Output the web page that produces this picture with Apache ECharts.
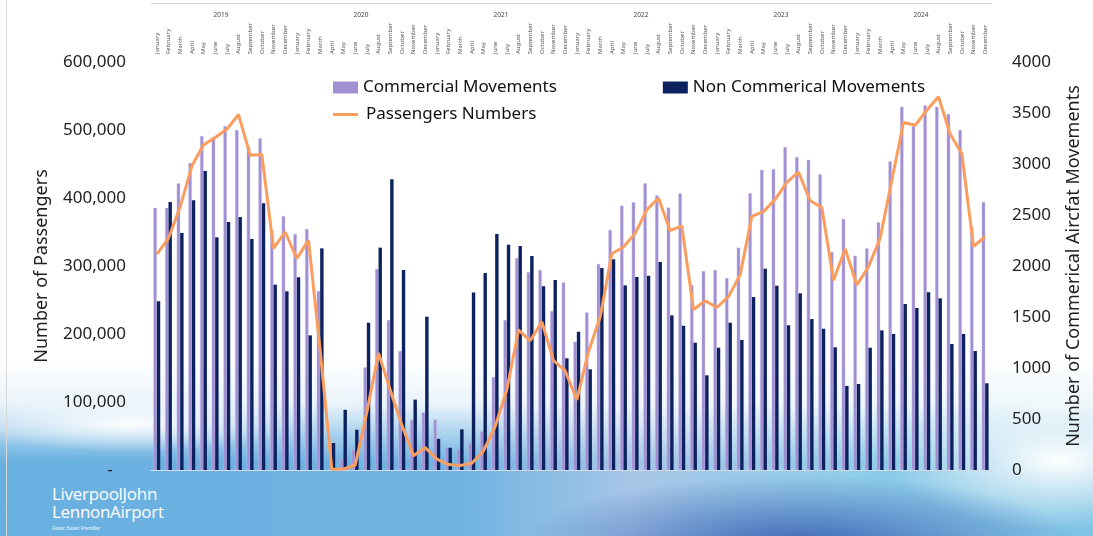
<!DOCTYPE html>
<html>
<head>
<meta charset="utf-8">
<script src="https://cdn.jsdelivr.net/npm/echarts@6/dist/echarts.min.js"></script>
<style>
  html, body { margin: 0; padding: 0; }
  body { width: 1093px; height: 536px; position: relative; overflow: hidden; background: #fff; font-family: "Noto Sans", "Open Sans", sans-serif; }
  #sky {
    position: absolute; left: 0; top: 360px; width: 1093px; height: 176px;
    background:
      radial-gradient(ellipse 170px 28px at 130px 64px, rgba(255,255,255,0.95), rgba(255,255,255,0)),
      radial-gradient(ellipse 280px 70px at 800px 185px, rgba(58,98,180,0.95), rgba(58,98,180,0)),
      radial-gradient(ellipse 170px 70px at 1060px 100px, rgba(255,255,255,1), rgba(255,255,255,0)),
      linear-gradient(to bottom, rgba(255,255,255,1) 0%, rgba(255,255,255,0.85) 25%, rgba(255,255,255,0) 58%),
      linear-gradient(to right, #68b0e0 0%, #70b3e2 42%, #a7c6e7 58%, #8fcde9 78%, #7fc3e5 100%);
  }
  #frame { position: absolute; left: 6px; top: 0; width: 1px; height: 536px; background: #d8d8d8; }
  #chart { position: absolute; left: 0; top: 0; width: 1093px; height: 536px; }
  #logo { position: absolute; left: 52px; top: 485px; color: #fff; font-family: "Open Sans", sans-serif; font-size: 17px; line-height: 18px; letter-spacing: -0.3px; }
  #logo .tag { font-size: 5px; line-height: 8px; margin-top: 3px; opacity: 0.9; }
</style>
</head>
<body>
<div id="sky"></div>
<div id="frame"></div>
<div id="logo">LiverpoolJohn<br>LennonAirport<div class="tag">Faster. Easier. Friendlier</div></div>
<div id="chart"></div>
<script>
// Monthly figures, January 2019 to December 2024
const years = ['2019', '2020', '2021', '2022', '2023', '2024'];
const monthNames = ['January', 'February', 'March', 'April', 'May', 'June', 'July',
  'August', 'September', 'October', 'November', 'December'];

// Commercial aircraft movements
const commercialMovements = [
  2570, 2570, 2810, 3010, 3275, 3261, 3373, 3333, 3170, 3252, 2353, 2490,
  2314, 2363, 1755, 10, 110, 200, 1007, 1971, 1471, 1167, 490, 565,
  495, 220, 205, 262, 380, 912, 1471, 2078, 1941, 1961, 1559, 1840,
  1258, 1546, 2020, 2353, 2592, 2624, 2810, 2693, 2572, 2712, 1814, 1951,
  1961, 1882, 2180, 2716, 2944, 2951, 3167, 3069, 3042, 2899, 2137, 2461,
  2101, 2173, 2428, 3026, 3562, 3373, 3575, 3562, 3490, 3333, 2386, 2627
];

// Non-commercial aircraft movements
const nonCommercialMovements = [
  1654, 2627, 2324, 2644, 2931, 2281, 2431, 2480, 2265, 2614, 1817, 1752,
  1889, 1320, 2173, 265, 590, 395, 1444, 2180, 2850, 1961, 690, 1503,
  305, 218, 398, 1739, 1931, 2314, 2209, 2196, 2098, 1801, 1863, 1095,
  1356, 987, 1980, 2065, 1810, 1892, 1905, 2039, 1516, 1415, 1248, 928,
  1199, 1444, 1275, 1696, 1974, 1807, 1418, 1732, 1480, 1386, 1203, 824,
  843, 1199, 1369, 1333, 1627, 1588, 1742, 1683, 1235, 1333, 1167, 850
];

// Passenger numbers
const passengers = [
  317600, 340700, 387000, 447000, 478000, 489000, 501000, 523000, 463000, 464000, 326000, 350000,
  311000, 338000, 176000, 1000, 1500, 7000, 85000, 172000, 118000, 66000, 21000, 33000,
  16000, 8000, 6500, 10000, 28000, 64000, 118000, 206000, 190000, 218000, 161000, 146000,
  103000, 174000, 225000, 318000, 328000, 348000, 383000, 400000, 352000, 359000, 236000, 249000,
  239000, 255000, 287000, 373000, 380000, 398000, 423000, 438000, 396000, 386000, 279000, 325000,
  272000, 299000, 341000, 426000, 511000, 507000, 529000, 549000, 494000, 465000, 329000, 343000
];

const months = [];
years.forEach(y => monthNames.forEach(m => months.push(m + ' ' + y)));

const FONT = '"Noto Sans", "Open Sans", sans-serif';
const chart = echarts.init(document.getElementById('chart'), null, { renderer: 'canvas' });

chart.setOption({
  backgroundColor: 'transparent',
  animation: false,
  textStyle: { fontFamily: FONT },
  grid: { left: 151, right: 102, top: 62, bottom: 66 },
  legend: [
    {
      data: [
        { name: 'Commercial Movements', icon: 'rect' },
        { name: 'Non Commerical Movements', icon: 'rect' }
      ],
      left: 333, top: 79, padding: 0, itemWidth: 25, itemHeight: 12, itemGap: 106,
      itemStyle: { borderWidth: 0 },
      textStyle: { fontSize: 17, color: '#111', fontFamily: FONT }
    },
    {
      data: [{ name: 'Passengers Numbers', icon: 'rect' }],
      left: 333, top: 106, padding: 0, itemWidth: 25, itemHeight: 3,
      itemStyle: { borderWidth: 0 },
      textStyle: { fontSize: 17, color: '#111', fontFamily: FONT, padding: [0, 0, 0, 3] }
    }
  ],
  xAxis: [
    {
      type: 'category', data: months, position: 'bottom',
      axisLine: { lineStyle: { color: '#d6dbe2', width: 1 } },
      axisTick: { length: 3, lineStyle: { color: '#d6dbe2' } },
      axisLabel: { show: false }
    },
    {
      type: 'category', data: months, position: 'top', offset: 0,
      axisLine: { show: false },
      axisTick: { length: 36, lineStyle: { color: '#d4d4d4' } },
      axisLabel: {
        rotate: 90, fontSize: 6, color: '#555', margin: 8, interval: 0,
        formatter: v => v.split(' ')[0]
      }
    },
    {
      type: 'category', data: years, position: 'top', offset: 59,
      axisLine: { show: true, lineStyle: { color: '#d4d4d4' } },
      axisTick: { inside: true, length: 57, lineStyle: { color: '#c4c4c4' } },
      axisLabel: { inside: true, fontSize: 6.5, color: '#444', margin: 9 }
    }
  ],
  yAxis: [
    {
      type: 'value', min: 0, max: 600000, interval: 100000, position: 'left',
      name: 'Number of Passengers', nameLocation: 'middle', nameGap: 100,
      nameTextStyle: { fontSize: 18, color: '#222', fontFamily: FONT },
      axisLine: { show: false }, axisTick: { show: false }, splitLine: { show: false },
      axisLabel: {
        fontSize: 17, color: '#222', margin: 25,
        formatter: v => v === 0 ? '-   ' : v.toLocaleString('en-US')
      }
    },
    {
      type: 'value', min: 0, max: 4000, interval: 500, position: 'right',
      name: 'Number of Commerical Aircfat Movements', nameLocation: 'middle', nameGap: 74,
      nameTextStyle: { fontSize: 18, color: '#222', fontFamily: FONT },
      axisLine: { show: false }, axisTick: { show: false }, splitLine: { show: false },
      axisLabel: { fontSize: 17, color: '#222', margin: 21, formatter: v => String(v) }
    }
  ],
  series: [
    {
      name: 'Commercial Movements', type: 'bar', xAxisIndex: 0, yAxisIndex: 1,
      data: commercialMovements, barWidth: 3.4, barGap: '0%',
      itemStyle: { color: '#a08fd2', borderColor: '#c9bfea', borderWidth: 0.4 }
    },
    {
      name: 'Non Commerical Movements', type: 'bar', xAxisIndex: 0, yAxisIndex: 1,
      data: nonCommercialMovements, barWidth: 3.4, barGap: '0%',
      itemStyle: { color: '#0c215e' }
    },
    {
      name: 'Passengers Numbers', type: 'line', xAxisIndex: 0, yAxisIndex: 0,
      data: passengers, symbol: 'none', z: 5,
      lineStyle: { color: '#fb9d5e', width: 3 },
      itemStyle: { color: '#fb9d5e' }
    }
  ]
});
</script>
</body>
</html>
